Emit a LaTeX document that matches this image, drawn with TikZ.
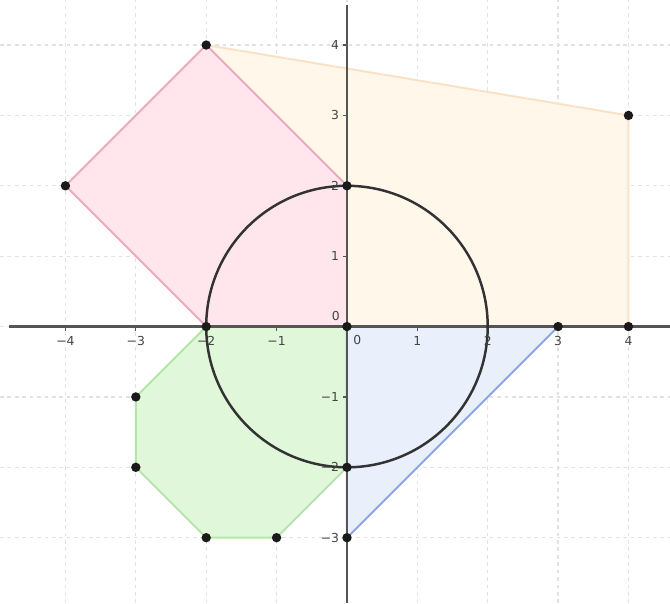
\documentclass[tikz,border=0pt]{standalone}
\usepackage{fontspec}
\setmainfont{DejaVu Sans}
\definecolor{gridc}{HTML}{E2E2E2}
\definecolor{axisc}{HTML}{555555}
\definecolor{redfill}{HTML}{FFE6EC}
\definecolor{rededge}{HTML}{EBAABB}
\definecolor{yelfill}{HTML}{FFF7EA}
\definecolor{yeledge}{HTML}{FAE2C6}
\definecolor{grnfill}{HTML}{E0F7DA}
\definecolor{grnedge}{HTML}{B4E6AA}
\definecolor{blufill}{HTML}{E9F0FC}
\definecolor{bluedge}{HTML}{8AA4E4}
\definecolor{ptc}{HTML}{1A1A1A}
\definecolor{labc}{HTML}{444444}
\tikzset{
  gridline/.style={gridc, dash pattern=on 1.5pt off 1.5pt, line width=0.5pt},
  axisline/.style={axisc, line width=0.9pt},
  shapeline/.style={line width=0.8pt, line join=round},
  pt/.style={circle, fill=ptc, inner sep=0pt, minimum size=3.8pt},
  ticklab/.style={font=\fontsize{5}{6}\selectfont, text=labc, inner sep=1pt}
}
\begin{document}
\begin{tikzpicture}
\useasboundingbox (-4.93,-3.93) rectangle (4.59,4.64);
\fill[white] (-4.93,-3.93) rectangle (4.59,4.64);
% grid
\foreach \x in {-4,...,4} \draw[gridline] (\x,-3.93) -- (\x,4.64);
\foreach \y in {-3,...,4} \draw[gridline] (-4.93,\y) -- (4.59,\y);
% coordinates
\coordinate (A) at (-2,4);
\coordinate (B) at (-4,2);
\coordinate (C) at (-2,0);
\coordinate (O) at (0,0);
\coordinate (D) at (0,2);
\coordinate (E) at (4,3);
\coordinate (F) at (4,0);
\coordinate (G) at (3,0);
\coordinate (H) at (0,-3);
\coordinate (I) at (0,-2);
\coordinate (J) at (-1,-3);
\coordinate (K) at (-2,-3);
\coordinate (L) at (-3,-2);
\coordinate (M) at (-3,-1);
% yellow region
\filldraw[shapeline, fill=yelfill, draw=yeledge] (A) -- (E) -- (F) -- (O) -- (D) -- cycle;
% red region
\fill[redfill] (A) -- (B) -- (C) -- (O) -- (D) -- cycle;
\draw[shapeline, rededge] (D) -- (A) -- (B) -- (C);
% green region
\filldraw[shapeline, fill=grnfill, draw=grnedge] (C) -- (O) -- (I) -- (J) -- (K) -- (L) -- (M) -- cycle;
% blue triangle
\filldraw[shapeline, fill=blufill, draw=bluedge] (O) -- (G) -- (H) -- cycle;
% axes
\draw[axisline] (-4.8,0) -- (4.59,0);
\draw[axisline] (0,-3.93) -- (0,4.57);
\foreach \x in {-4,...,4} \draw[axisc, line width=0.5pt] (\x,0) -- (\x,-0.06);
\foreach \y in {-3,...,4} \draw[axisc, line width=0.5pt] (0,\y) -- (-0.06,\y);
% circle
\draw[line width=1pt, black!80] (O) circle[radius=2];
% tick labels
\foreach \x in {1,2,3,4} \node[ticklab, anchor=north] (xln\x) at (-\x,-0.1) {−\x};
\foreach \x in {1,2,3,4} \node[ticklab, anchor=north] (xl\x) at (\x,-0.1) {\x};
\node[ticklab, anchor=north west] (xl0) at (0.05,-0.08) {0};
\foreach \y in {1,2,3,4} \node[ticklab, anchor=east] (yl\y) at (-0.07,\y) {\y};
\foreach \y in {1,2,3} \node[ticklab, anchor=east] (yln\y) at (-0.07,-\y) {−\y};
\node[ticklab, anchor=south east] (yl0) at (-0.06,0.04) {0};
% points
\foreach \p in {A,B,D,E,C,O,G,F,M,L,I,H,K,J} \node[pt] (p\p) at (\p) {};
\end{tikzpicture}
\end{document}
